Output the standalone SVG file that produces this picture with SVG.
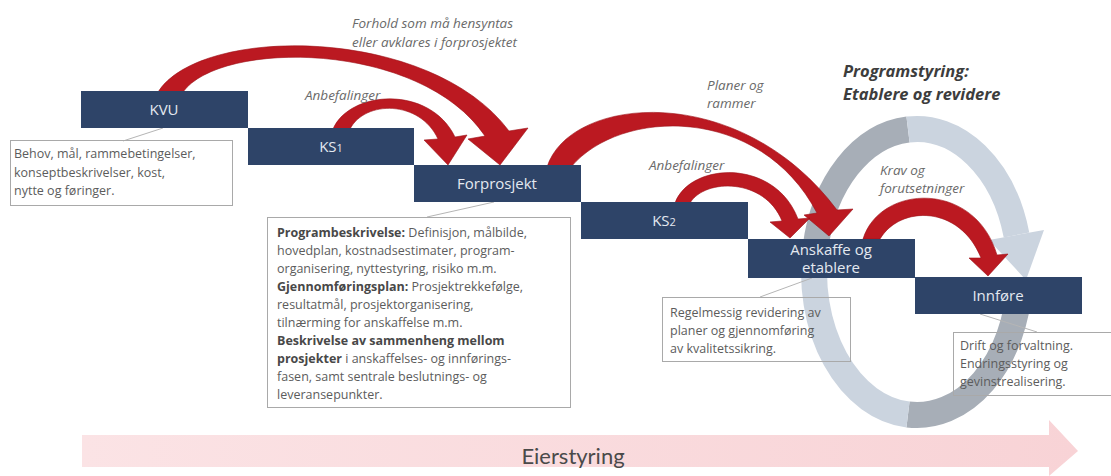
<svg xmlns="http://www.w3.org/2000/svg" width="1111" height="476" viewBox="0 0 1111 476">
<style>
.box{fill:#2e4468}
.bl{font-family:"Open Sans",sans-serif;font-size:15px;fill:#e4e9f0;text-anchor:middle}
.note{fill:none;stroke:#a9a9a9;stroke-width:1}
.nt{font-family:"Open Sans",sans-serif;font-size:12.5px;fill:#5c5c5c}
.b{font-weight:bold;fill:#484848}
.lab{font-family:"Open Sans",sans-serif;font-style:italic;font-size:13.5px;fill:#6a6a6a}
.red{fill:#bb1921;stroke:#9c1017;stroke-width:0.6}
.conn{stroke:#b5b5b5;stroke-width:1;fill:none}
.lt{fill:none;stroke:#cbd4df;stroke-width:26}
.dk{fill:none;stroke:#a7aeb7;stroke-width:26}
.ps{font-family:"Open Sans",sans-serif;font-size:16.5px;font-weight:bold;font-style:italic;fill:#3d3d3d}
</style>
<defs>
<linearGradient id="pk" x1="0" y1="0" x2="1" y2="0">
<stop offset="0" stop-color="#fbe3e5"/>
<stop offset="1" stop-color="#f8d3d6"/>
</linearGradient>
</defs>

<g id="eierstyring">
<path d="M82,435 H1049 V420 L1078,451 L1049,476 V467 H82 Z" fill="url(#pk)"/>
<text x="573" y="464" font-family="Lato,sans-serif" font-size="22" fill="#4a4a4a" text-anchor="middle">Eierstyring</text>
</g>

<g id="programstyring-loop">
<path class="dk" d="M815.6,247.2 A103,143 0 0 1 908,129.5"/>
<path class="lt" d="M908,129.5 A103,143 0 0 1 1016.5,235"/>
<polygon points="1044,230 989,240 1026,280" fill="#cbd4df"/>
<path class="dk" d="M1019.6,284.5 A103,143 0 0 1 908,414.5"/>
<path class="lt" d="M908,414.5 A103,143 0 0 1 815.6,247.2"/>
</g>

<g id="connectors">
<line class="conn" x1="163" y1="128" x2="123" y2="141"/>
<line class="conn" x1="494" y1="202" x2="427" y2="217"/>
<line class="conn" x1="812" y1="278" x2="760" y2="297"/>
<line class="conn" x1="980" y1="314" x2="1037" y2="332"/>
<path class="red" d="M158,92 C200,25 430,25 509,131 L528,128 L500,165 L468,139 L485,136 C420,40 220,40 183,92 Z"/>
<path class="red" d="M333,129 C350,90 430,85 455,137 L467,135 L448,165 L424,140 L438,139 C420,100 365,100 350,129 Z"/>
<path class="red" d="M547,167 C570,95 740,80 837,210 L853,209 L829,236 L804,215 L817,213 C760,104 620,108 571,167 Z"/>
<path class="red" d="M675,203 C690,162 775,158 798,219 L810,218 L790,238 L770,222 L782,221 C765,178 705,178 690,203 Z"/>
<path class="red" d="M863,239 C880,184 975,180 997,255 L1008,254 L988,276 L969,258 L981,258 C960,205 900,205 880,239 Z"/>
</g>

<g id="label-forhold">
<text class="lab" x="352" y="28">Forhold som må hensyntas</text>
<text class="lab" x="352" y="47">eller avklares i forprosjektet</text>
</g>
<g id="label-anbefalinger1"><text class="lab" x="305" y="100" font-size="14.5">Anbefalinger</text></g>
<g id="label-planer">
<text class="lab" x="707" y="90" font-size="14.5">Planer og</text>
<text class="lab" x="707" y="108" font-size="14.5">rammer</text>
</g>
<g id="label-anbefalinger2"><text class="lab" x="649" y="170" font-size="14.5">Anbefalinger</text></g>
<g id="label-krav">
<text class="lab" x="880" y="175">Krav og</text>
<text class="lab" x="880" y="193">forutsetninger</text>
</g>
<g id="label-programstyring">
<text class="ps" x="843" y="77">Programstyring:</text>
<text class="ps" x="843" y="99.5">Etablere og revidere</text>
</g>

<g id="kvu">
<rect class="box" x="81" y="91" width="167" height="37"/>
<text class="bl" x="164" y="115">KVU</text>
</g>
<g id="ks1">
<rect class="box" x="248" y="128" width="166" height="37"/>
<text class="bl" x="331" y="152">KS<tspan font-size="11">1</tspan></text>
</g>
<g id="forprosjekt">
<rect class="box" x="414" y="165" width="167" height="37"/>
<text class="bl" x="497" y="189">Forprosjekt</text>
</g>
<g id="ks2">
<rect class="box" x="581" y="202" width="167" height="37"/>
<text class="bl" x="664" y="226">KS<tspan font-size="11">2</tspan></text>
</g>
<g id="anskaffe">
<rect class="box" x="748" y="239" width="167" height="39"/>
<text class="bl" x="831" y="255" font-size="14">Anskaffe og</text>
<text class="bl" x="831" y="273" font-size="14">etablere</text>
</g>
<g id="innfore">
<rect class="box" x="915" y="277" width="167" height="37"/>
<text class="bl" x="998" y="301">Innføre</text>
</g>

<g id="note-kvu">
<rect class="note" x="10.5" y="140.5" width="222" height="65"/>
<text class="nt" x="14" y="158">Behov, mål, rammebetingelser,</text>
<text class="nt" x="14" y="176.5">konseptbeskrivelser, kost,</text>
<text class="nt" x="14" y="195">nytte og føringer.</text>
</g>
<g id="note-forprosjekt">
<rect class="note" x="267.5" y="217.5" width="303" height="190"/>
<text class="nt" x="277" y="237"><tspan class="b">Programbeskrivelse:</tspan> Definisjon, målbilde,</text>
<text class="nt" x="277" y="255">hovedplan, kostnadsestimater, program-</text>
<text class="nt" x="277" y="273">organisering, nyttestyring, risiko m.m.</text>
<text class="nt" x="277" y="291"><tspan class="b">Gjennomføringsplan:</tspan> Prosjektrekkefølge,</text>
<text class="nt" x="277" y="309">resultatmål, prosjektorganisering,</text>
<text class="nt" x="277" y="327">tilnærming for anskaffelse m.m.</text>
<text class="nt" x="277" y="345"><tspan class="b">Beskrivelse av sammenheng mellom</tspan></text>
<text class="nt" x="277" y="363"><tspan class="b">prosjekter</tspan> i anskaffelses- og innførings-</text>
<text class="nt" x="277" y="381">fasen, samt sentrale beslutnings- og</text>
<text class="nt" x="277" y="399">leveransepunkter.</text>
</g>
<g id="note-anskaffe">
<rect class="note" x="662.5" y="297.5" width="188" height="64"/>
<text class="nt" x="670" y="317">Regelmessig revidering av</text>
<text class="nt" x="670" y="335">planer og gjennomføring</text>
<text class="nt" x="670" y="353">av kvalitetssikring.</text>
</g>
<g id="note-innfore">
<rect class="note" x="953.5" y="332.5" width="160" height="63"/>
<text class="nt" x="960" y="350">Drift og forvaltning.</text>
<text class="nt" x="960" y="368">Endringsstyring og</text>
<text class="nt" x="960" y="386">gevinstrealisering.</text>
</g>
</svg>
